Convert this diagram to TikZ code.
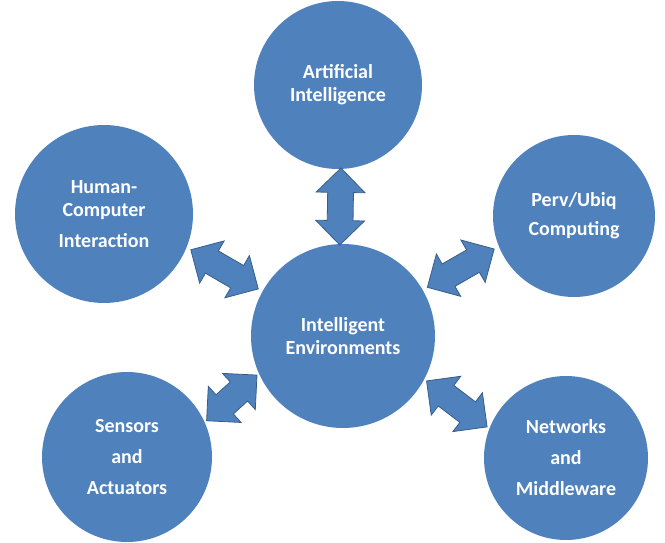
\documentclass[tikz,border=0pt]{standalone}
\usepackage{fontspec}
\setmainfont{Carlito}
\usepackage{tikz}
\usetikzlibrary{positioning, calc, shapes}

\definecolor{ballblue}{HTML}{4F81BD}
\definecolor{edgeblue}{HTML}{385D8A}

\tikzset{
    topic/.style={circle, fill=ballblue, text=white, inner sep=0pt, align=center,
        font=\bfseries\fontsize{20}{23}\selectfont},
    link/.style={double arrow, fill=ballblue, draw=edgeblue, line width=0.8pt, sloped,
        inner xsep=0pt, inner ysep=12.5pt, minimum width=48pt,
        double arrow head extend=11.5pt, double arrow tip angle=90}
}

\begin{document}
\begin{tikzpicture}[x=1pt, y=-1pt]
            \useasboundingbox (0,0) rectangle (665,543);
            \node[topic, minimum size=184pt] (ie) at (343,336) {Intelligent\\Environments};
            \node[topic, minimum size=168pt] (ai) at (338,85) {Artificial\\Intelligence};
            \node[topic, minimum size=178pt] (hci) at (104,214) {Human-\\Computer\\[8pt]Interaction};
            \node[topic, minimum size=162pt] (perv) at (574,216) {Perv/Ubiq\\[6pt]Computing};
            \node[topic, minimum size=170pt] (sens) at (127,457) {Sensors\\[8pt]and\\[8pt]Actuators};
            \node[topic, minimum size=164pt] (net) at (566,458) {Networks\\[8pt]and\\[8pt]Middleware};
            \path (ai.-88) -- node[link, minimum height=77pt] {} (ie.92);
            \path (hci.-22.6) -- node[link, minimum height=78pt] {} (ie.151.5);
            \path (perv.202.7) -- node[link, minimum height=77pt] {} (ie.30);
            \path (sens.24.8) -- node[link, minimum height=68pt] {} (ie.204.6);
            \path (ie.-28.5) -- node[link, minimum height=76pt] {} (net.159.9);
        \end{tikzpicture}
\end{document}
